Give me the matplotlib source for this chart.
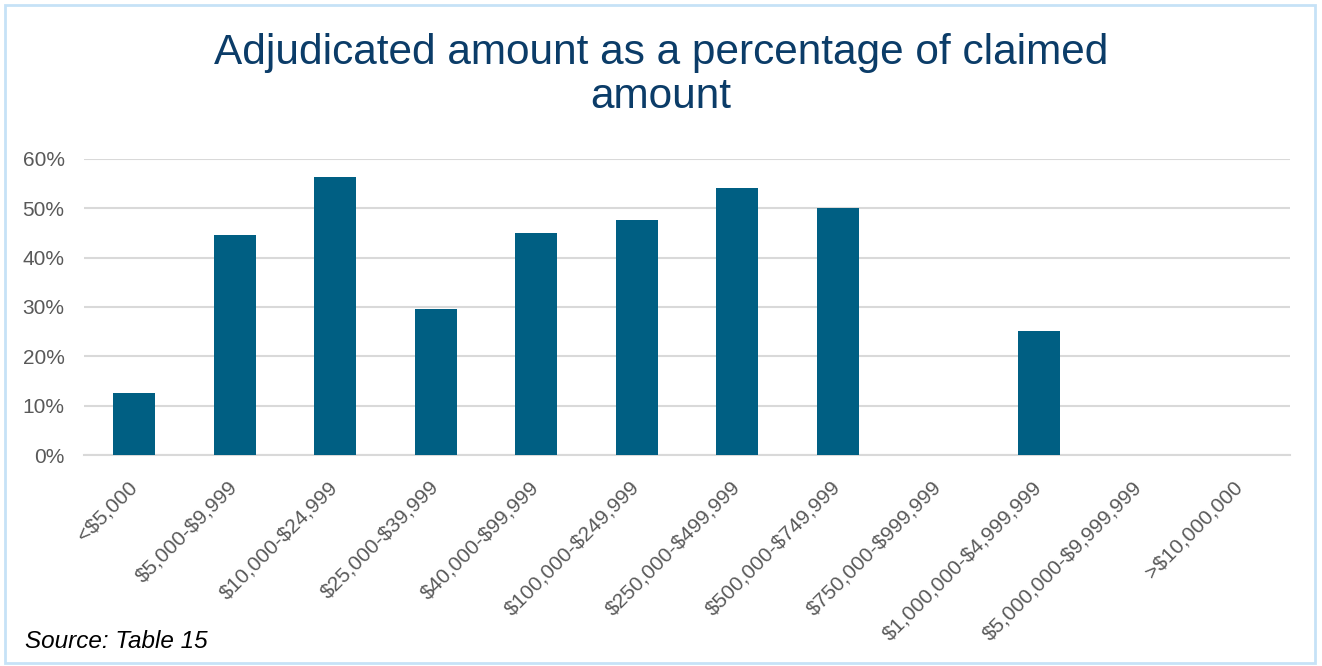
#!/usr/bin/env python3
"""
Bar chart: adjudicated amount as a percentage of claimed amount.
"""
import matplotlib
matplotlib.use('Agg')
import matplotlib.pyplot as plt
import matplotlib.patches as mpatches
from matplotlib.ticker import PercentFormatter

# Data
CATEGORIES = ['<$5,000', '$5,000-$9,999', '$10,000-$24,999', '$25,000-$39,999',
              '$40,000-$99,999', '$100,000-$249,999', '$250,000-$499,999',
              '$500,000-$749,999', '$750,000-$999,999', '$1,000,000-$4,999,999',
              '$5,000,000-$9,999,999', '>$10,000,000']
PERCENTAGES = [0.126, 0.446, 0.564, 0.296, 0.450, 0.476, 0.541, 0.501,
               0.0, 0.251, 0.0, 0.0]
Y_TICKS = [0.0, 0.1, 0.2, 0.3, 0.4, 0.5, 0.6]

# Styling
BAR_COLOR = '#005f83'
TITLE_COLOR = '#0b3c68'
TICK_COLOR = '#595959'
GRID_COLOR = '#d9d9d9'
BORDER_COLOR = '#c6e2f7'

plt.rcParams['font.family'] = ['Liberation Sans', 'DejaVu Sans']
plt.rcParams['text.parse_math'] = False

fig = plt.figure(figsize=(13.22, 6.66), dpi=100, facecolor='white')
ax = fig.add_axes([0.0635, 0.3168, 0.9123, 0.4445])

x = range(len(CATEGORIES))
ax.bar(x, PERCENTAGES, width=0.42, color=BAR_COLOR, zorder=3)

ax.set_xlim(-0.5, len(CATEGORIES) - 0.5)
ax.set_ylim(0, 0.6)
ax.set_yticks(Y_TICKS)
ax.yaxis.set_major_formatter(PercentFormatter(1.0, decimals=0))
ax.grid(axis='y', color=GRID_COLOR, linewidth=1.5, zorder=0)
ax.set_xticks(list(x))
ax.set_xticklabels(CATEGORIES, rotation=45, ha='right', va='center',
                   rotation_mode='anchor')

for side in ['top', 'right', 'left']:
    ax.spines[side].set_visible(False)
ax.spines['bottom'].set_color(GRID_COLOR)
ax.spines['bottom'].set_linewidth(1.5)

ax.tick_params(axis='both', length=0, colors=TICK_COLOR, labelsize=15)
ax.tick_params(axis='y', pad=14)
ax.tick_params(axis='x', pad=21)

# Title
fig.text(0.5, 0.887, 'Adjudicated amount as a percentage of claimed\namount',
         ha='center', va='center', fontsize=30.5, color=TITLE_COLOR,
         linespacing=1.12)

# Source note
fig.text(0.019, 0.037, 'Source: Table 15', ha='left', va='center',
         fontsize=17.5, style='italic', color='black')

# Outer border
border = mpatches.Rectangle((0.004, 0.005), 0.991, 0.988, transform=fig.transFigure,
                            fill=False, edgecolor=BORDER_COLOR, linewidth=2)
fig.patches.append(border)

fig.savefig('out.png', dpi=100, facecolor='white')
